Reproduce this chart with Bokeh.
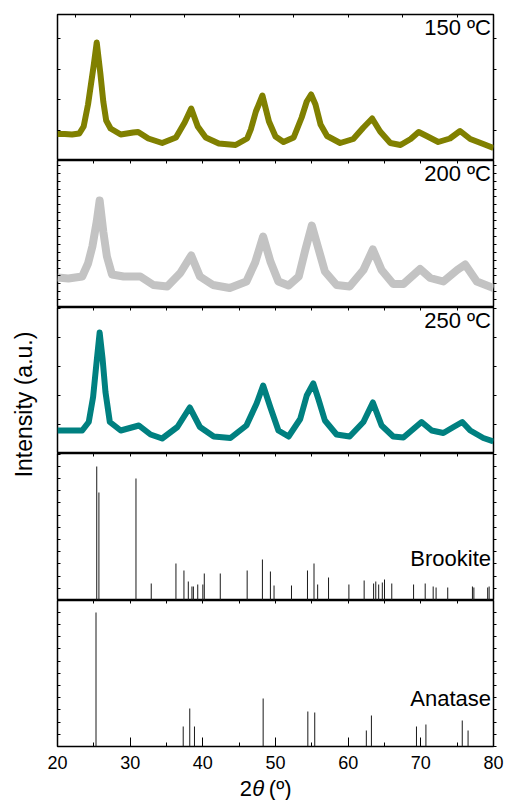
import math

from bokeh.plotting import figure
from bokeh.layouts import column, row
from bokeh.models import (Range1d, LinearAxis, SingleIntervalTicker, Label,
                          ColumnDataSource)
from bokeh.embed import file_html
from bokeh.resources import INLINE

# ---------------------------------------------------------------- data
# XRD patterns of the TiO2 samples (2theta in degrees, intensity in a.u.)
x150 = [20, 21, 22, 23, 23.6, 24.2, 24.6, 25.0, 25.4, 25.9, 26.3, 26.7, 27.3,
        28.7, 30.4, 31.1, 32.5, 34.4, 36.3, 37.5, 38.4, 39.3, 40.4, 42.2, 44.5,
        46.1, 46.6, 47.3, 48.2, 49.1, 50.0, 51.1, 52.5, 53.6, 54.3, 54.9, 55.5,
        56.2, 57.1, 58.9, 60.7, 62.1, 63.3, 64.4, 65.8, 67.2, 68.6, 69.7, 70.8,
        72.4, 74.0, 75.4, 76.8, 78.6, 80]
y150 = [26.5, 26.5, 26, 27, 34, 56, 76, 96, 118, 87, 59, 40, 32,
        26, 28, 28.5, 22, 17.5, 23, 38, 52, 34, 23, 17, 15.5,
        22, 31, 49, 65, 39, 24, 18.5, 23, 43, 59, 66, 56,
        36, 24.5, 17.5, 21.5, 33, 42, 29, 17.5, 15.5, 21.5, 28.5, 24.5,
        18.5, 22, 29.5, 21.5, 16.5, 12.5]

x200 = [20, 21.5, 23.4, 24.2, 24.8, 25.4, 25.8, 26.3, 26.8, 27.5, 29.1, 31.4,
        33.2, 35.1, 36.9, 38.4, 39.6, 41.4, 43.7, 46.0, 47.2, 48.3, 49.3, 50.4,
        51.8, 53.2, 54.1, 55.0, 55.9, 56.8, 58.4, 60.2, 62.1, 63.4, 64.6, 66.2,
        67.6, 69.9, 71.3, 73.1, 75.0, 76.1, 77.7, 80]
y200 = [30, 29, 31, 44, 61, 86, 107, 76, 51, 33, 31, 31,
        22.5, 21, 34.5, 52, 31, 22.5, 19.5, 26, 45, 71, 46, 26,
        22, 31, 57.5, 82, 59, 36, 22.5, 21, 37.5, 58, 37.5, 23.5,
        23.5, 38.5, 29.5, 26, 37.5, 43, 26, 19.5]

x250 = [20, 21.5, 23.4, 24.3, 24.9, 25.4, 25.8, 26.2, 26.6, 27.2, 28.7, 31.2,
        32.8, 34.4, 36.5, 38.2, 39.6, 41.5, 43.8, 46.0, 47.4, 48.3, 49.3, 50.4,
        51.8, 53.4, 54.3, 55.2, 55.9, 56.8, 58.4, 60.2, 62.1, 63.4, 64.6, 66.2,
        67.6, 70.1, 71.5, 73.1, 74.5, 75.7, 76.8, 78.6, 80]
y250 = [23, 23, 23, 31.5, 56.5, 93, 121, 95, 61.5, 31.5, 23, 28,
        19, 15, 26.5, 46, 26.5, 17, 15.5, 28, 50, 68, 46, 23,
        17, 34.5, 58, 70, 54.5, 33, 19, 17, 31.5, 51, 28, 17,
        16, 31.5, 23, 20.5, 26.5, 31.5, 23, 15.5, 12]

# Reference patterns (peak position, relative intensity)
brookite_pos = [25.4, 25.7, 30.8, 32.9, 36.3, 37.4, 38.0, 38.5, 38.7, 39.3,
                40.0, 40.2, 42.4, 46.1, 48.2, 49.3, 49.8, 52.2, 54.4, 55.3,
                55.8, 57.3, 60.1, 62.2, 63.5, 63.8, 64.2, 64.7, 65.0, 66.0,
                69.0, 70.6, 71.7, 72.1, 73.7, 77.1, 77.3, 79.2, 79.4]
brookite_int = [134, 108, 122, 17, 37, 30, 19, 14, 14, 16,
                16, 27, 27, 30, 41, 29, 15, 15, 30, 37,
                16, 23, 16, 20, 17, 19, 16, 18, 21, 17,
                16, 17, 14, 13, 13, 14, 13, 13, 14]

anatase_pos = [25.3, 37.3, 38.2, 38.85, 48.3, 54.45, 55.4, 62.5, 63.2,
               69.4, 70.7, 75.7, 76.5]
anatase_int = [134, 20, 38, 20, 48, 35, 34, 16, 31, 20, 22, 26, 16]

samples = ["150 ºC", "200 ºC", "250 ºC"]
phases = ["Brookite", "Anatase"]
y_title = "Intensity (a.u.)"
x_title = [("2", "normal"), ("θ", "italic"), ("(º)", "normal")]

# ---------------------------------------------------------------- style
FONT = "Liberation Sans"
YLAB_W = 45              # strip holding the rotated y title
LEFT, RIGHT = 12, 14     # panel borders around the 436 px frame
PANEL_W = LEFT + 436 + RIGHT
TITLE_H = 25             # strip below the panels for the x-axis title
X_RANGE = Range1d(20, 80)


def blank(width, height):
    """Figure without axes, used as a canvas for free-standing titles."""
    f = figure(width=width, height=height, x_range=Range1d(0, width),
               y_range=Range1d(0, height), x_axis_location=None,
               y_axis_location=None, output_backend="svg",
               toolbar_location=None, min_border=0)
    f.grid.visible = False
    f.outline_line_color = None
    return f


def tick_axis(ticker, tick_in=3, tick_out=0):
    """Axis that only draws ticks (labels switched off)."""
    return LinearAxis(ticker=ticker, axis_line_color=None,
                      major_tick_in=tick_in, major_tick_out=tick_out,
                      major_tick_line_color="black", major_tick_line_width=1,
                      minor_tick_line_color=None,
                      major_label_text_font_size="0px",
                      major_label_text_color=None,
                      major_label_standoff=0)


def panel(frame_h, y_step, top_step, top=0, bottom=0):
    p = figure(width=PANEL_W, height=frame_h + top + bottom,
               x_range=X_RANGE, y_range=Range1d(0, frame_h),
               x_axis_location=None, y_axis_location=None,
               output_backend="svg", toolbar_location=None,
               min_border_left=LEFT, min_border_right=RIGHT,
               min_border_top=top, min_border_bottom=bottom)
    p.grid.visible = False
    p.outline_line_color = "black"
    p.outline_line_width = 1.5
    p.add_layout(tick_axis(SingleIntervalTicker(interval=y_step, num_minor_ticks=0)), "left")
    p.add_layout(tick_axis(SingleIntervalTicker(interval=y_step, num_minor_ticks=0),
                           tick_in=0, tick_out=3), "right")
    p.add_layout(tick_axis(SingleIntervalTicker(interval=top_step, num_minor_ticks=0)), "above")
    return p


def corner_label(p, text, y, baseline):
    p.add_layout(Label(x=80, y=y, x_offset=-2.5, text=text, text_align="right",
                       text_baseline=baseline, text_font=FONT,
                       text_font_size="22px", text_color="black"))


# ---------------------------------------------------------------- measured patterns
p1 = panel(146, 30.5, 7.5, top=14)
p2 = panel(147, 7.9, 5)
p3 = panel(146, 29, 5)

for p, xs, ys, color, lw, name in [
        (p1, x150, y150, "#808000", 6, samples[0]),
        (p2, x200, y200, "#c3c3c3", 8, samples[1]),
        (p3, x250, y250, "#008080", 6, samples[2])]:
    p.line(xs, ys, line_color=color, line_width=lw, line_join="round")
    corner_label(p, name, p.y_range.end, "top")

# ---------------------------------------------------------------- reference cards
p4 = panel(147, 12.2, 5)
p5 = panel(146, 12.2, 5, bottom=29)

for p, pos, inten, name, ylab_pos in [(p4, brookite_pos, brookite_int, phases[0], 42.5),
                                      (p5, anatase_pos, anatase_int, phases[1], 48)]:
    src = ColumnDataSource(dict(x=pos, top=inten, bottom=[0] * len(pos)))
    p.segment(x0="x", y0="bottom", x1="x", y1="top", source=src,
              line_color="#1a1a1a", line_width=1)
    corner_label(p, name, ylab_pos, "alphabetic")

# bottom x axis with tick labels
xaxis = LinearAxis(ticker=SingleIntervalTicker(interval=10, num_minor_ticks=2),
                   axis_line_color=None,
                   major_tick_in=9, major_tick_out=0,
                   minor_tick_in=4, minor_tick_out=0,
                   major_tick_line_color="black", minor_tick_line_color="black",
                   major_label_text_font=FONT, major_label_text_font_size="18px",
                   major_label_text_color="black", major_label_standoff=9)
p5.add_layout(xaxis, "below")

panels = column(p1, p2, p3, p4, p5, spacing=0)
panels_h = sum(f.height for f in (p1, p2, p3, p4, p5))

# ---------------------------------------------------------------- titles
ylab = blank(YLAB_W, panels_h)
ylab.add_layout(Label(x=23, y=panels_h - 404, text=y_title, angle=math.pi / 2,
                      text_align="center", text_baseline="middle",
                      text_font=FONT, text_font_size="23px", text_color="black"))

xlab = blank(YLAB_W + PANEL_W, TITLE_H)
for (txt, style), left in zip(x_title, [239.3, 251.7, 268.3]):
    xlab.add_layout(Label(x=left, y=12.5, text=txt, text_font=FONT,
                          text_font_size="22px", text_font_style=style,
                          text_align="left", text_baseline="alphabetic",
                          text_color="black"))

layout = column(row(ylab, panels, spacing=0), xlab, spacing=0)
open("out.html", "w").write(file_html(layout, INLINE))
